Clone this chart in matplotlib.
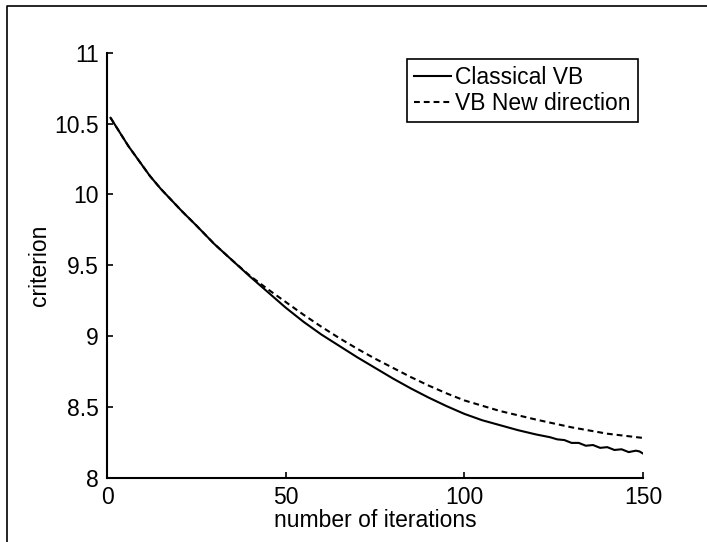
import matplotlib
matplotlib.use("Agg")
import matplotlib.pyplot as plt
from matplotlib.lines import Line2D

plt.rcParams['font.family'] = ['Liberation Sans', 'DejaVu Sans']

# criterion
iters_classical = [1, 2, 4, 6, 8, 10, 12, 15, 18, 21, 25, 30, 35, 40, 45, 50, 55, 60,
                   65, 70, 75, 80, 85, 90, 95, 100, 105, 110, 115, 120,
                   124, 126, 128, 130, 132, 134, 136, 138, 140, 142, 144, 146, 148, 149, 150]
crit_classical = [10.54, 10.50, 10.42, 10.34, 10.27, 10.20, 10.13, 10.04, 9.96, 9.88,
                  9.78, 9.65, 9.535, 9.42, 9.31, 9.20, 9.10, 9.01, 8.93, 8.85, 8.775,
                  8.70, 8.63, 8.565, 8.505, 8.45, 8.405, 8.37, 8.335, 8.305,
                  8.285, 8.27, 8.265, 8.245, 8.245, 8.225, 8.23, 8.21, 8.215, 8.195,
                  8.20, 8.18, 8.19, 8.185, 8.17]

iters_new = [1, 2, 4, 6, 8, 10, 12, 15, 18, 21, 25, 30, 35, 40, 45, 50, 55, 60, 65, 70,
             75, 80, 85, 90, 95, 100, 110, 120, 130, 140, 150]
crit_new = [10.54, 10.50, 10.42, 10.34, 10.27, 10.20, 10.13, 10.04, 9.96, 9.88, 9.78,
            9.65, 9.535, 9.425, 9.33, 9.24, 9.15, 9.065, 8.985, 8.91, 8.84, 8.775, 8.71,
            8.65, 8.595, 8.545, 8.47, 8.41, 8.355, 8.31, 8.28]

fig = plt.figure(figsize=(7.07, 5.42), dpi=100)
ax = fig.add_axes([107 / 707, 1 - 477.6 / 542, 536 / 707, 424.9 / 542])

ax.plot(iters_classical, crit_classical, color='black', lw=1.5, label='Classical VB')
ax.plot(iters_new, crit_new, color='black', lw=1.5, linestyle=(0, (2.8, 1.9)),
        label='VB New direction')

ax.set_xlim(0, 150)
ax.set_ylim(8, 11)
ax.set_xticks([0, 50, 100, 150])
ax.set_yticks([8, 8.5, 9, 9.5, 10, 10.5, 11])
ax.set_yticklabels(['8', '8.5', '9', '9.5', '10', '10.5', '11'])
ax.spines['top'].set_visible(False)
ax.spines['right'].set_visible(False)
for s in ['left', 'bottom']:
    ax.spines[s].set_linewidth(1.5)
ax.tick_params(direction='in', length=4, width=1.2, labelsize=16.5, pad=6)
ax.set_xlabel('number of iterations', fontsize=16.5, labelpad=0)
ax.set_ylabel('criterion', fontsize=16.5, labelpad=2)

leg = ax.legend(loc='upper right', bbox_to_anchor=(0.99, 0.985), fontsize=16.5,
                fancybox=False, framealpha=1, edgecolor='black', handlelength=1.6,
                handletextpad=0.2, borderpad=0.3, labelspacing=0.15, borderaxespad=0)
leg.get_frame().set_linewidth(1.2)

# outer frame of the original figure (only left and top are visible)
fx = 7 / 707
fy = 1 - 6 / 542
fig.add_artist(Line2D([fx, fx, 1], [0, fy, fy], color='black', lw=1.2,
                      transform=fig.transFigure))

fig.savefig('out.png', dpi=100)
